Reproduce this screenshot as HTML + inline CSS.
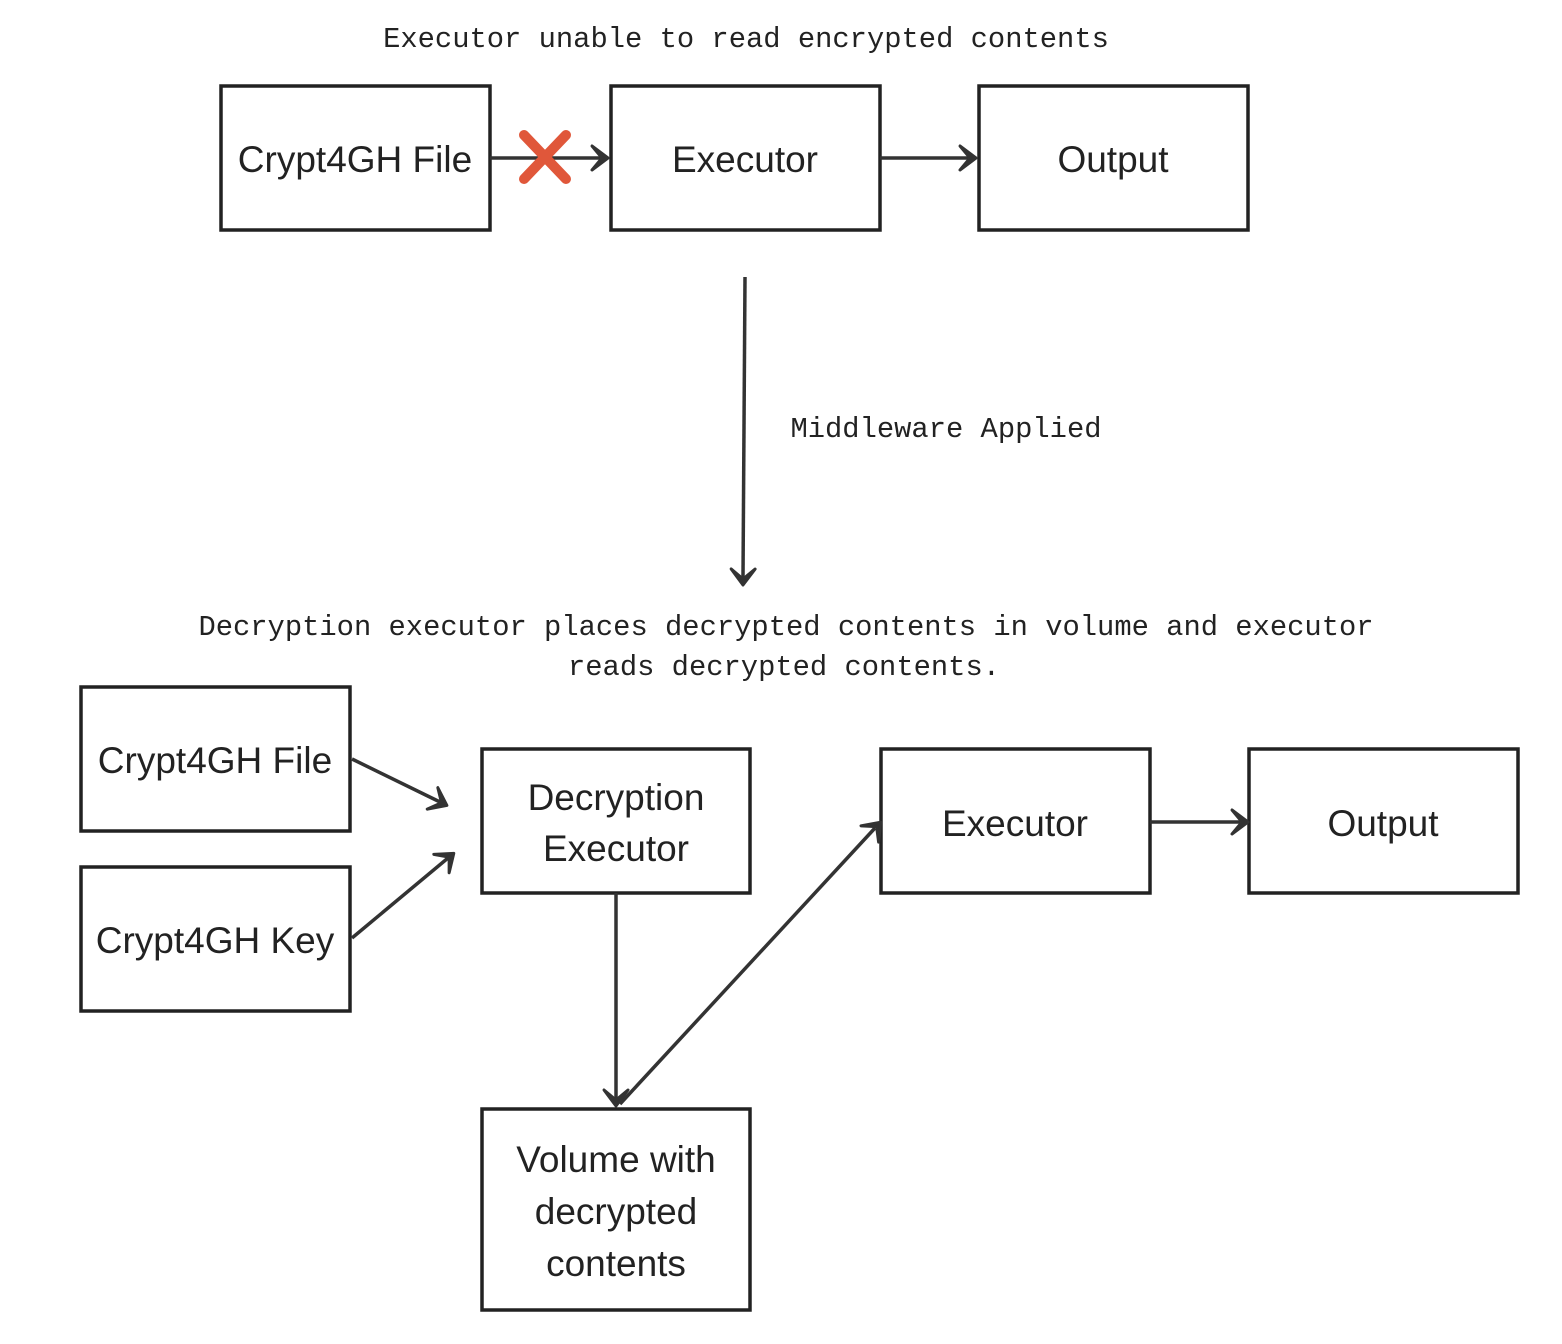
<!DOCTYPE html>
<html><head><meta charset="utf-8"><style>
html,body{margin:0;padding:0;background:#fff;}
svg{display:block}
.b{fill:#fff;stroke:#222;stroke-width:3.5}
.t{font-family:"Liberation Sans",sans-serif;font-size:37px;fill:#222;text-anchor:middle}
.m{font-family:"Liberation Mono",monospace;font-size:28.8px;fill:#222;text-anchor:middle}
.l{stroke:#333;stroke-width:3.5;fill:none}
.ah{fill:#333;stroke:#333;stroke-width:3;stroke-linejoin:round}
</style></head><body>
<svg width="1562" height="1344" viewBox="0 0 1562 1344">
<defs>
<path id="h" class="ah" d="M1,0 L-15,-12 L-5,0 L-15,12 Z"/>
</defs>
<text class="m" x="746" y="47">Executor unable to read encrypted contents</text>
<rect class="b" x="221" y="86" width="269" height="144"/>
<rect class="b" x="611" y="86" width="269" height="144"/>
<rect class="b" x="979" y="86" width="269" height="144"/>
<text class="t" x="355" y="172">Crypt4GH File</text>
<text class="t" x="745" y="172">Executor</text>
<text class="t" x="1113" y="172">Output</text>
<line class="l" x1="490" y1="158" x2="600" y2="158"/>
<line class="l" x1="880" y1="158" x2="968" y2="158"/>
<g stroke="#e0573a" stroke-width="10" stroke-linecap="round"><line x1="524" y1="135" x2="566" y2="179"/><line x1="566" y1="135" x2="524" y2="179"/></g>
<line class="l" x1="745" y1="277" x2="743" y2="577"/>
<text class="m" x="946" y="437">Middleware Applied</text>
<text class="m" x="786" y="635">Decryption executor places decrypted contents in volume and executor</text>
<text class="m" x="784" y="675">reads decrypted contents.</text>
<rect class="b" x="81" y="687" width="269" height="144"/>
<rect class="b" x="81" y="867" width="269" height="144"/>
<rect class="b" x="482" y="749" width="268" height="144"/>
<rect class="b" x="881" y="749" width="269" height="144"/>
<rect class="b" x="1249" y="749" width="269" height="144"/>
<rect class="b" x="482" y="1109" width="268" height="201"/>
<text class="t" x="215" y="773">Crypt4GH File</text>
<text class="t" x="215" y="953">Crypt4GH Key</text>
<text class="t" x="616" y="810">Decryption</text>
<text class="t" x="616" y="861">Executor</text>
<text class="t" x="1015" y="836">Executor</text>
<text class="t" x="1383" y="836">Output</text>
<text class="t" x="616" y="1172">Volume with</text>
<text class="t" x="616" y="1224">decrypted</text>
<text class="t" x="616" y="1276">contents</text>
<line class="l" x1="352" y1="759" x2="440" y2="802"/>
<line class="l" x1="352" y1="938" x2="448" y2="858"/>
<line class="l" x1="616" y1="893" x2="616" y2="1098"/>
<line class="l" x1="620" y1="1104" x2="875" y2="828"/>
<line class="l" x1="1150" y1="822" x2="1240" y2="822"/>
<g class="ah">
<path transform="translate(607,158)" d="M1,0 L-15,-12 L-5,0 L-15,12 Z"/>
<path transform="translate(975,158)" d="M1,0 L-15,-12 L-5,0 L-15,12 Z"/>
<path transform="translate(743,584) rotate(90.4)" d="M1,0 L-15,-12 L-5,0 L-15,12 Z"/>
<path transform="translate(446,805) rotate(26.1)" d="M1,0 L-15,-12 L-5,0 L-15,12 Z"/>
<path transform="translate(453,854) rotate(-39.7)" d="M1,0 L-15,-12 L-5,0 L-15,12 Z"/>
<path transform="translate(616,1105) rotate(90)" d="M1,0 L-15,-12 L-5,0 L-15,12 Z"/>
<path transform="translate(880,823) rotate(-47.2)" d="M1,0 L-15,-12 L-5,0 L-15,12 Z"/>
<path transform="translate(1247,822)" d="M1,0 L-15,-12 L-5,0 L-15,12 Z"/>
</g>
</svg>
</body></html>
